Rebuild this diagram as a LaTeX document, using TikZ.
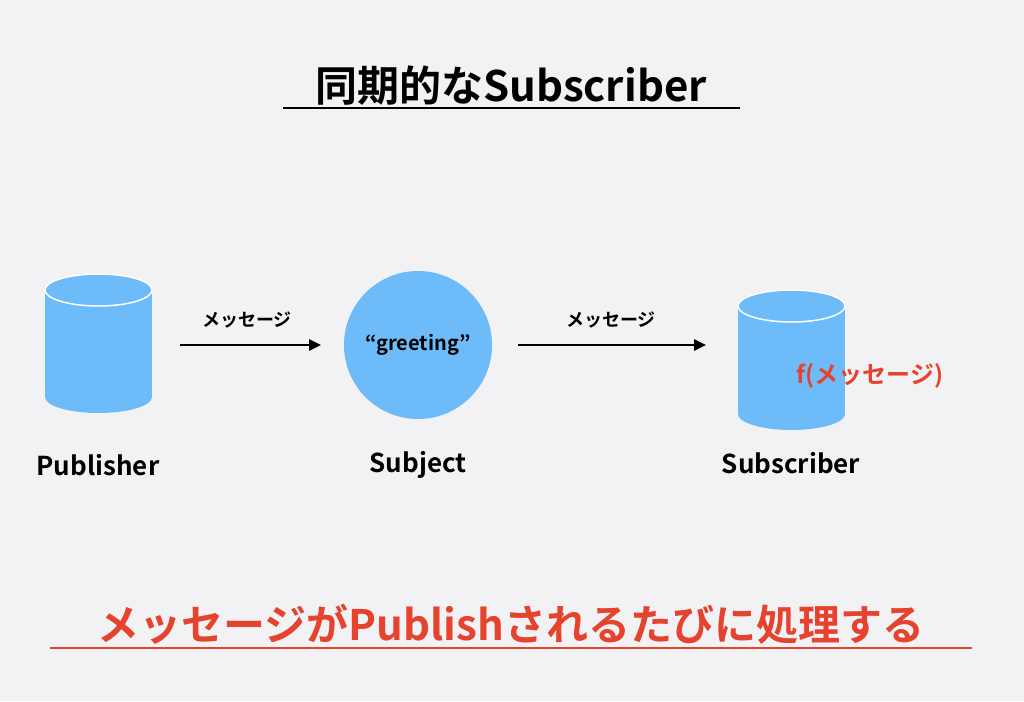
\documentclass[tikz,border=0pt]{standalone}
\usepackage{fontspec}
\setmainfont{Noto Sans CJK JP Bold}
\usetikzlibrary{arrows.meta}
\definecolor{bg}{HTML}{F2F2F4}
\definecolor{blu}{HTML}{6DBBF8}
\definecolor{rd}{HTML}{E5432D}
\begin{document}
\begin{tikzpicture}[x=1pt,y=-1pt,
  lbl/.style={font=\fontsize{26}{30}\selectfont},
  msg/.style={font=\fontsize{18}{22}\selectfont},
  arr/.style={line width=2.5pt,-{Triangle[length=12pt,width=11pt]}}]
\fill[bg] (0,0) rectangle (1024,701);
\useasboundingbox (0,0) rectangle (1024,701);
% title
\node (title) at (511,86) {\fontsize{42}{46}\selectfont 同期的なSubscriber};
\draw[line width=1.5pt] (283,108) -- (740,108);
% publisher cylinder
\fill[blu] (45,290) rectangle (152,397);
\fill[blu] (98.5,397) ellipse (53.5 and 16);
\filldraw[blu,draw=white,line width=1.5pt] (98.5,290) ellipse (53.5 and 16);
\coordinate (pub) at (98,345);
% subscriber cylinder
\fill[blu] (738,306) rectangle (845,414);
\fill[blu] (791.5,414) ellipse (53.5 and 16);
\filldraw[blu,draw=white,line width=1.5pt] (791.5,306) ellipse (53.5 and 16);
% subject
\node[circle,fill=blu,minimum size=148pt,inner sep=0pt] (subj) at (418,345) {};
\node[font=\fontsize{20}{24}\selectfont] (g) at (418,345) {“greeting”};
% arrows
\coordinate (a1s) at (180,345); \coordinate (a1e) at (321,345);
\coordinate (a2s) at (518,345); \coordinate (a2e) at (706,345);
\draw[arr] (a1s) -- (a1e);
\draw[arr] (a2s) -- (a2e);
\node[msg] (m1) at (247,320) {メッセージ};
\node[msg] (m2) at (611,320) {メッセージ};
% labels
\node[lbl] (lp) at (98,465) {Publisher};
\node[lbl] (ls) at (418,465) {Subject};
\node[lbl] (lsub) at (791,463) {Subscriber};
\node[text=rd,font=\fontsize{24}{28}\selectfont] (f) at (870,376) {f(メッセージ)};
% bottom
\node[text=rd] (bot) at (511,624) {\fontsize{42}{46}\selectfont メッセージがPublishされるたびに処理する};
\draw[rd,line width=1.5pt] (50,648) -- (972,648);
\end{tikzpicture}
\end{document}
